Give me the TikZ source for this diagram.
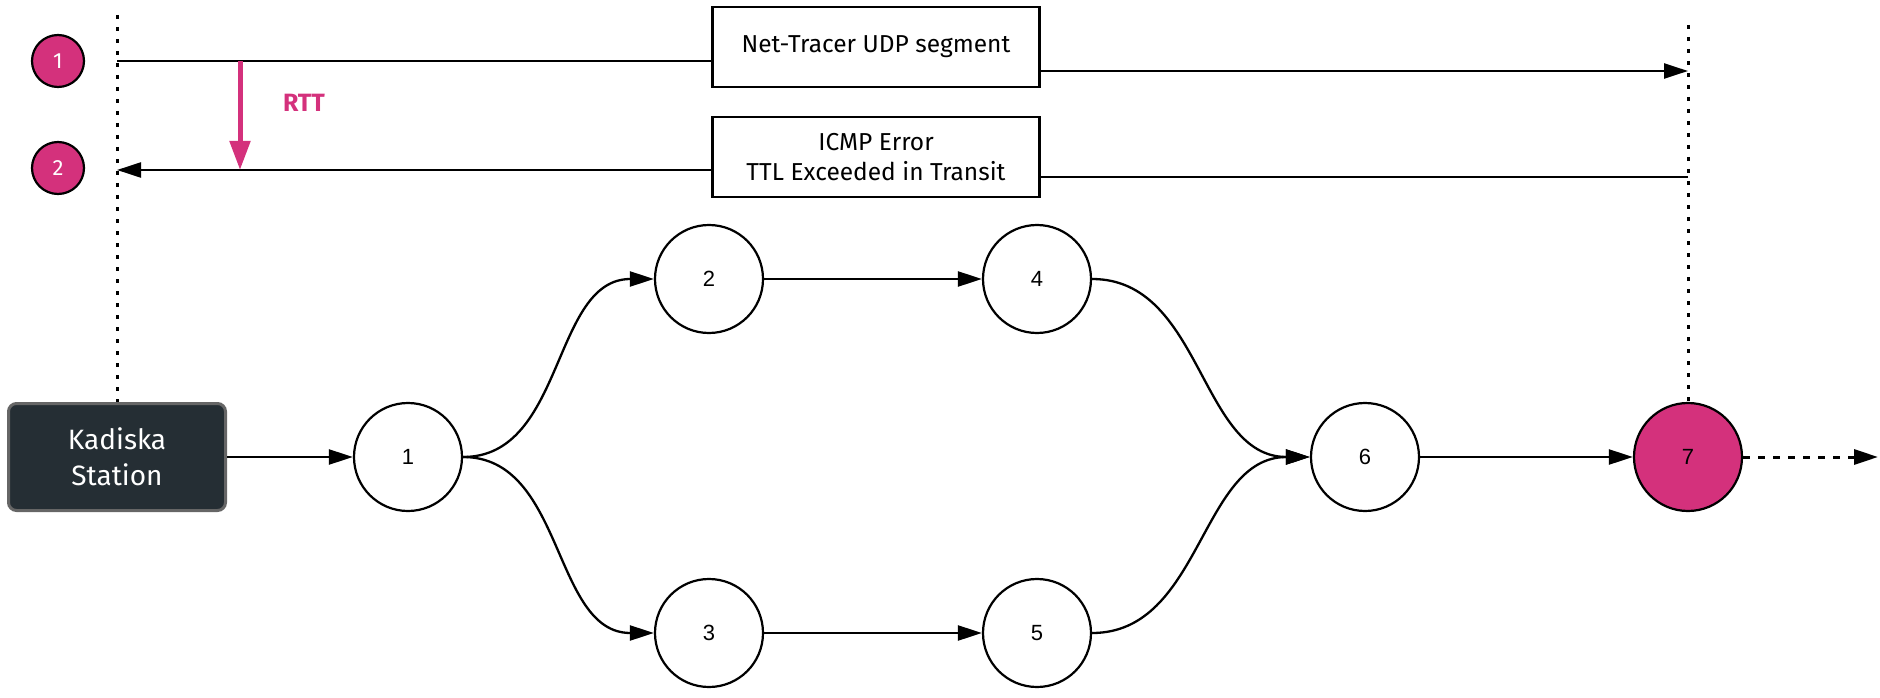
\documentclass[tikz,border=0pt]{standalone}
\usepackage{fontspec}
\setmainfont{Liberation Sans}
\newfontfamily\ubu{Fira Sans}
\usetikzlibrary{arrows.meta}
\definecolor{pinkc}{HTML}{D4317C}
\definecolor{stationc}{HTML}{252E34}
\definecolor{stationb}{HTML}{666666}
\begin{document}
\begin{tikzpicture}[x=1pt,y=-1pt,
  hop/.style={circle,draw=black,line width=2.2pt,fill=white,minimum size=108pt,inner sep=0pt,font=\fontsize{22}{26}\selectfont},
  step7/.style={hop,fill=pinkc},
  badge/.style={circle,draw=black,line width=2.2pt,fill=pinkc,minimum size=52pt,inner sep=0pt,text=white,font=\ubu\fontsize{22}{24}\selectfont},
  msgbox/.style={draw=black,line width=2.7pt,fill=white,minimum width=327pt,minimum height=80pt,inner sep=0pt,align=center,font=\ubu\fontsize{24.5}{30}\selectfont},
  station/.style={draw=stationb,line width=3pt,fill=stationc,rounded corners=8pt,minimum width=217pt,minimum height=107pt,inner sep=0pt,align=center,text=white,font=\ubu\fontsize{28}{36}\selectfont},
  conn/.style={line width=2.3pt,-{Triangle[length=24pt,width=15pt]}},
  plain/.style={line width=2.3pt},
  lifeline/.style={line width=3pt,dash pattern=on 4pt off 8pt},
  dotarrow/.style={line width=3pt,dash pattern=on 7pt off 8pt,-{Triangle[length=24pt,width=15pt]}},
  rtt/.style={draw=pinkc,line width=5pt,-{Triangle[length=29pt,width=20pt]}}
]
\useasboundingbox (0,0) rectangle (1880,698);

% nodes
\node[station] (st) at (117,457) {Kadiska\\Station};
\node[hop] (n1) at (408,457) {1};
\node[hop] (n2) at (709,279) {2};
\node[hop] (n4) at (1037,279) {4};
\node[hop] (n3) at (709,633) {3};
\node[hop] (n5) at (1037,633) {5};
\node[hop] (n6) at (1365,457) {6};
\node[step7] (n7) at (1688,457) {7};

\node[badge] (b1) at (58,61) {1};
\node[badge] (b2) at (58,168) {2};

\node[msgbox] (m1) at (876,47) {Net-Tracer UDP segment};
\node[msgbox] (m2) at (876,157) {ICMP Error\\TTL Exceeded in Transit};

\node[text=pinkc,font=\ubu\bfseries\fontsize{25}{28}\selectfont] (rttl) at (304,103) {RTT};

% coordinates
\coordinate (lt) at (117,15);
\coordinate (rt) at (1688,25);
\coordinate (a1s) at (117,61);
\coordinate (a1e) at (1688,71);
\coordinate (a2s) at (1688,177);
\coordinate (a2e) at (117,170);
\coordinate (r1) at (240,61);
\coordinate (r2) at (240,170);
\coordinate (out) at (1878,457);

% lifelines
\draw[lifeline] (lt) -- (st.north);
\draw[lifeline] (rt) -- (n7.north);

% messages
\draw[plain] (a1s) -- (a1s -| m1.west);
\draw[conn] (a1e -| m1.east) -- (a1e);
\draw[plain] (a2s) -- (a2s -| m2.east);
\draw[conn] (a2e -| m2.west) -- (a2e);
\draw[rtt] (r1) -- (r2);

% graph
\draw[conn] (st) -- (n1);
\draw[conn] (n1.east) to[out=0,in=180] (n2.west);
\draw[conn] (n1.east) to[out=0,in=180] (n3.west);
\draw[conn] (n2) -- (n4);
\draw[conn] (n3) -- (n5);
\draw[conn] (n4.east) to[out=0,in=180] (n6.west);
\draw[conn] (n5.east) to[out=0,in=180] (n6.west);
\draw[conn] (n6) -- (n7);
\draw[dotarrow] (n7.east) -- (out);
\end{tikzpicture}
\end{document}
